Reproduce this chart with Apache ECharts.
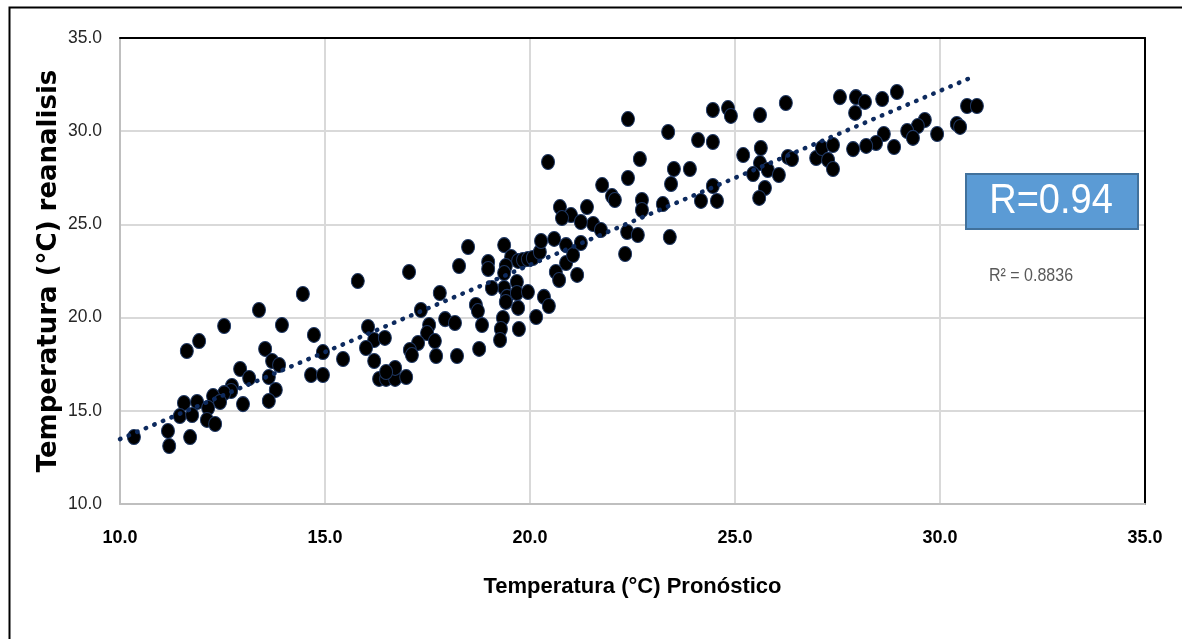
<!DOCTYPE html>
<html>
<head>
<meta charset="utf-8">
<script src="https://cdn.jsdelivr.net/npm/echarts@6/dist/echarts.min.js"></script>
<style>
html,body{margin:0;padding:0;background:#fff;}
#chart{width:1182px;height:639px;}
</style>
</head>
<body>
<div id="chart"></div>
<script>
// Forecast temperature (x) vs reanalysis temperature (y), °C
const forecastX = [
 14.46,13.39,12.54,13.95,11.93,11.63,14.73,13.54,14.95,15.44,13.71,13.88,12.93,13.15,13.63,14.66,14.95,12.73,12.71,12.54,
 12.27,12.44,13.80,13.00,13.63,11.56,11.88,12.15,11.46,11.76,12.12,12.32,11.17,10.34,11.71,11.20,15.80,17.05,17.80,17.34,
 16.05,16.20,16.46,16.00,16.20,16.32,16.49,16.71,16.71,16.49,16.98,17.54,17.49,17.93,18.17,17.68,17.27,17.07,17.12,17.71,
 18.22,18.68,18.73,18.83,18.76,18.49,19.37,19.54,19.71,19.83,19.95,20.07,20.24,20.27,18.27,18.98,18.98,19.41,19.37,19.68,
 19.37,19.07,19.44,19.41,19.68,19.95,19.71,19.34,19.29,19.27,19.73,20.15,20.34,20.46,20.59,20.88,20.88,20.63,20.71,21.15,
 21.05,21.24,21.54,21.73,20.73,21.00,20.78,21.39,21.24,20.44,21.76,22.00,22.07,22.39,22.37,22.32,22.68,23.51,23.90,23.44,
 24.46,22.73,22.73,23.24,24.17,24.56,22.63,23.41,22.39,23.37,24.10,24.46,24.46,24.83,24.90,25.61,26.24,25.20,25.63,25.61,
 25.80,25.44,26.07,25.73,25.59,26.29,26.39,26.98,27.12,27.27,27.39,27.39,27.56,27.95,28.17,27.93,28.59,28.95,30.66,30.90,
 29.63,29.46,29.20,29.34,29.93,30.41,30.49,28.63,28.44,28.20,27.88,28.88
];
const reanalysisY = [
 21.27,20.41,19.55,19.60,18.74,18.21,19.07,18.32,18.15,17.78,17.67,17.46,17.24,16.76,16.81,16.92,16.92,16.33,16.06,15.95,
 15.79,15.47,16.12,15.36,15.53,15.42,15.47,15.15,14.72,14.77,14.51,14.29,13.92,13.59,13.59,13.11,21.96,22.45,21.32,20.41,
 19.50,18.80,18.91,18.37,17.67,16.71,16.71,16.71,17.30,17.08,16.81,19.60,19.17,19.92,19.71,18.74,18.64,18.26,17.99,17.94,
 17.94,20.68,20.35,19.60,18.32,23.79,23.89,23.25,23.04,23.09,23.14,23.20,23.52,24.11,22.77,22.98,22.61,22.77,22.39,21.91,
 21.59,21.59,21.11,20.84,21.32,21.37,20.52,19.98,19.39,18.80,19.39,20.03,21.11,20.62,24.22,23.89,22.93,22.45,22.02,22.29,
 23.36,24.00,25.02,24.70,25.93,25.50,25.34,25.93,25.13,28.35,27.11,26.52,26.31,27.49,24.59,23.41,28.51,27.97,27.97,27.17,
 27.06,26.31,25.77,26.09,26.26,26.26,24.43,24.32,30.65,29.96,29.53,29.42,31.14,31.24,30.82,30.87,31.51,28.72,29.10,28.29,
 27.92,27.70,27.65,26.95,26.42,28.62,28.51,28.56,29.10,28.46,29.26,27.97,31.83,31.83,31.57,30.98,31.73,32.10,31.35,31.35,
 30.60,30.28,30.01,29.64,29.85,30.39,30.23,29.85,29.37,29.21,29.04,29.15
];
// Linear trendline endpoints as drawn in the reference
const trendX = [10.0, 30.85];
const trendY = [13.48, 32.96];
const axisMin = 10, axisMax = 35, axisStep = 5;
const xTitle = 'Temperatura (°C) Pronóstico';
const yTitle = 'Temperatura (°C) reanalisis';
const rLabel = 'R=0.94';
const r2Label = 'R² = 0.8836';

const SANS = '"Liberation Sans", Arial, sans-serif';

const points = forecastX.map((x, i) => [x, reanalysisY[i]]);
const trend = trendX.map((x, i) => [x, trendY[i]]);

const chart = echarts.init(document.getElementById('chart'), null, {renderer: 'canvas'});
chart.setOption({
  animation: false,
  backgroundColor: '#fff',
  grid: {left: 120, top: 38, width: 1025, height: 466, containLabel: false},
  xAxis: [{
    type: 'value', min: axisMin, max: axisMax, interval: axisStep,
    axisLine: {show: true, lineStyle: {color: '#bfbfbf', width: 2}},
    axisTick: {show: false},
    splitLine: {show: true, lineStyle: {color: '#d9d9d9', width: 2}},
    axisLabel: {formatter: v => v.toFixed(1), fontFamily: SANS, fontWeight: 'bold', fontSize: 18, color: '#000', margin: 25},
    name: xTitle, nameLocation: 'middle', nameGap: 72, nameMoveOverlap: false,
    nameTextStyle: {fontFamily: SANS, fontWeight: 'bold', fontSize: 22, color: '#000'}
  }, {
    type: 'value', position: 'top', min: axisMin, max: axisMax, interval: axisStep,
    axisLine: {show: true, lineStyle: {color: '#000', width: 2}},
    axisTick: {show: false}, axisLabel: {show: false}, splitLine: {show: false}
  }],
  yAxis: [{
    type: 'value', min: axisMin, max: axisMax, interval: axisStep,
    axisLine: {show: true, lineStyle: {color: '#bfbfbf', width: 2}},
    axisTick: {show: false},
    splitLine: {show: true, lineStyle: {color: '#d9d9d9', width: 2}},
    axisLabel: {formatter: v => v.toFixed(1), fontFamily: SANS, fontSize: 17.5, color: '#262626', margin: 18},
    name: yTitle, nameLocation: 'middle', nameGap: 58, nameRotate: 90, nameMoveOverlap: false,
    nameTextStyle: {fontFamily: '"DejaVu Sans", sans-serif', fontWeight: 'bold', fontSize: 26, color: '#000'}
  }, {
    type: 'value', position: 'right', min: axisMin, max: axisMax, interval: axisStep,
    axisLine: {show: true, lineStyle: {color: '#000', width: 2}},
    axisTick: {show: false}, axisLabel: {show: false}, splitLine: {show: false}
  }],
  series: [{
    type: 'scatter',
    data: points,
    symbol: 'circle',
    symbolSize: [13, 15],
    itemStyle: {color: '#000', borderColor: '#1f3864', borderWidth: 1, opacity: 1},
    emphasis: {disabled: true},
    z: 2
  }, {
    type: 'line',
    data: trend,
    showSymbol: false,
    symbol: 'none',
    lineStyle: {color: '#0d2a5e', width: 4.5, type: [0.5, 8.8], cap: 'round'},
    emphasis: {disabled: true},
    z: 3
  }],
  graphic: [{
    type: 'rect', left: 7, top: 5, z: 0,
    shape: {width: 1200, height: 700},
    style: {fill: 'none', stroke: '#000', lineWidth: 2}
  }, {
    type: 'rect', left: 965, top: 173, z: 10,
    shape: {width: 172, height: 55},
    style: {fill: '#5b9bd5', stroke: '#41719c', lineWidth: 2}
  }, {
    type: 'text', z: 11, x: 1051, y: 201, scaleY: 1.12,
    style: {text: rLabel, fill: '#fff', font: '38px ' + SANS, textAlign: 'center', textVerticalAlign: 'middle'}
  }, {
    type: 'text', z: 11, x: 989, y: 276, scaleY: 1.2,
    style: {text: r2Label, fill: '#595959', font: '16px ' + SANS, textAlign: 'left', textVerticalAlign: 'middle'}
  }]
});
</script>
</body>
</html>
